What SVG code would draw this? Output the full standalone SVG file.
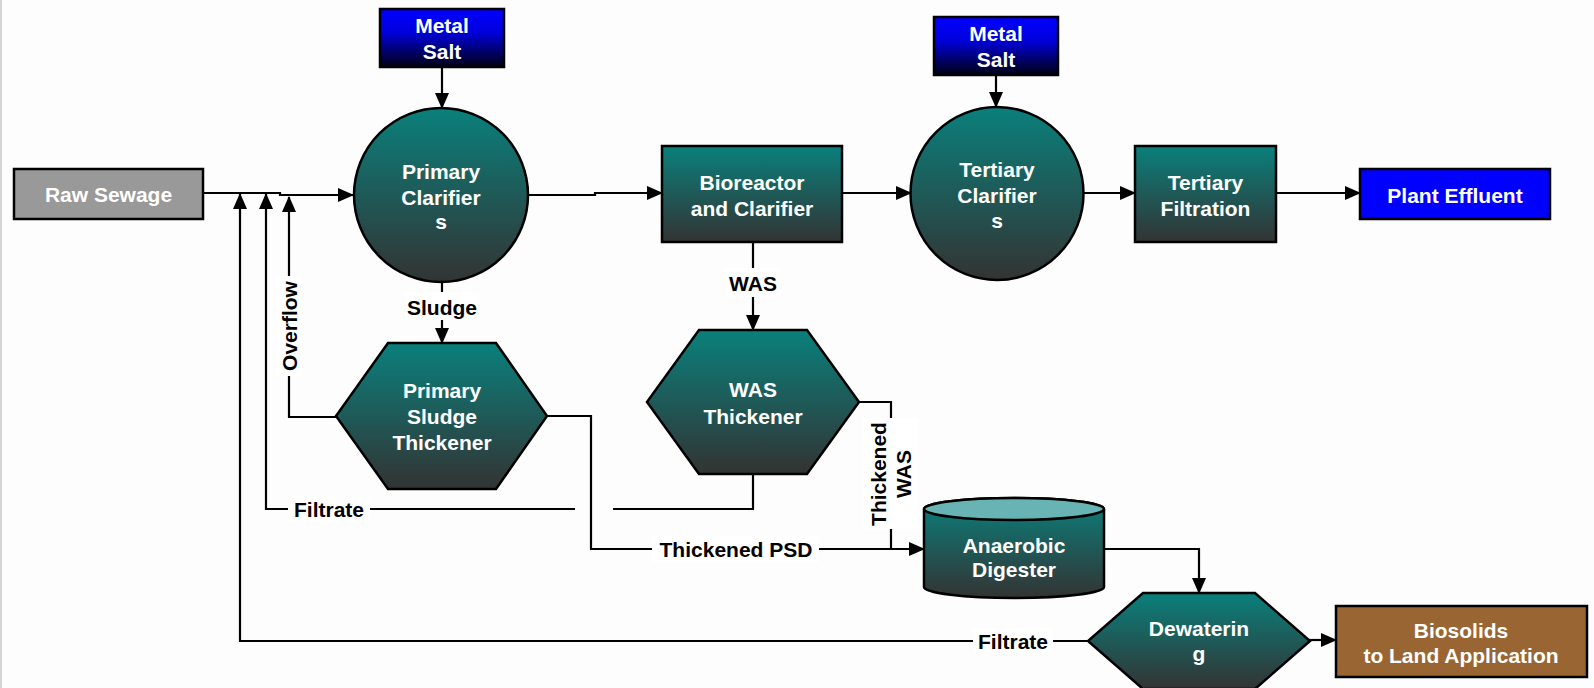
<svg xmlns="http://www.w3.org/2000/svg" width="1594" height="688" viewBox="0 0 1594 688">
<defs>
<linearGradient id="teal" x1="0" y1="0" x2="0" y2="1">
<stop offset="0" stop-color="#0a807c"/>
<stop offset="1" stop-color="#333333"/>
</linearGradient>
<linearGradient id="blue" x1="0" y1="0" x2="0" y2="1">
<stop offset="0" stop-color="#0000ff"/>
<stop offset="0.4" stop-color="#0000dd"/>
<stop offset="1" stop-color="#000012"/>
</linearGradient>
<marker id="arr" markerUnits="userSpaceOnUse" markerWidth="16" markerHeight="14" refX="15" refY="7" orient="auto">
<path d="M0,0 L16,7 L0,14 Z" fill="#000"/>
</marker>
<style>
.node{stroke:#000;stroke-width:2.5}
.tl{fill:url(#teal)}
.nt{font-family:"Liberation Sans",Arial,sans-serif;font-weight:bold;font-size:21px;fill:#fff;text-anchor:middle}
.lb{font-family:"Liberation Sans",Arial,sans-serif;font-weight:bold;font-size:21px;fill:#000;text-anchor:middle}
.c{fill:none;stroke:#000;stroke-width:2.2}
.bg{fill:#fff}
</style>
</defs>
<rect x="0" y="0" width="1594" height="688" fill="#fdfdfd"/>
<rect x="0" y="0" width="2" height="688" fill="#d4d4d4"/>

<g id="connectors">
<path class="c" d="M204,193 H280 V195 H353" marker-end="url(#arr)"/>
<path class="c" d="M442,67 V108" marker-end="url(#arr)"/>
<path class="c" d="M996,75 V107" marker-end="url(#arr)"/>
<path class="c" d="M528,195 H595 V193 H662" marker-end="url(#arr)"/>
<path class="c" d="M842,193 H911" marker-end="url(#arr)"/>
<path class="c" d="M1084,193 H1135" marker-end="url(#arr)"/>
<path class="c" d="M1276,193 H1360" marker-end="url(#arr)"/>
<path class="c" d="M442,282 V343" marker-end="url(#arr)"/>
<path class="c" d="M753,242 V330" marker-end="url(#arr)"/>
<path class="c" d="M336,417 H289 V197" marker-end="url(#arr)"/>
<path class="c" d="M575,509 H266 V194" marker-end="url(#arr)"/>
<path class="c" d="M613,509 H753 V474"/>
<path class="c" d="M1088,641 H240 V194" marker-end="url(#arr)"/>
<path class="c" d="M547,416 H591 V549 H924" marker-end="url(#arr)"/>
<path class="c" d="M859,402 H891 V549"/>
<path class="c" d="M1104,549 H1199 V593" marker-end="url(#arr)"/>
<path class="c" d="M1309,640 H1336" marker-end="url(#arr)"/>

<rect class="bg" x="405" y="292" width="74" height="28"/>
<text class="lb" x="442" y="314.5">Sludge</text>
<rect class="bg" x="725" y="268" width="56" height="29"/>
<text class="lb" x="753" y="290.5">WAS</text>
<rect class="bg" x="276" y="276" width="26" height="100"/>
<text class="lb" transform="translate(289,326) rotate(-90)" y="7.5">Overflow</text>
<rect class="bg" x="288" y="496" width="82" height="26"/>
<text class="lb" x="329" y="516.5">Filtrate</text>
<rect class="bg" x="652" y="536" width="167" height="26"/>
<text class="lb" x="736" y="556.5">Thickened PSD</text>
<rect class="bg" x="863" y="418" width="55" height="111"/>
<text class="lb" transform="translate(891,474) rotate(-90)"><tspan x="0" y="-5">Thickened</tspan><tspan x="0" y="20">WAS</tspan></text>
<rect class="bg" x="973" y="628" width="80" height="26"/>
<text class="lb" x="1013" y="648.5">Filtrate</text>
</g>

<g id="raw-sewage">
<rect class="node" x="14" y="169" width="189" height="50" fill="#999999"/>
<text class="nt" x="108.5" y="201.5">Raw Sewage</text>
</g>

<g id="metal-salt-1">
<rect class="node" x="380" y="9" width="124" height="58" fill="url(#blue)"/>
<text class="nt" x="442" y="33">Metal</text>
<text class="nt" x="442" y="59">Salt</text>
</g>

<g id="primary-clarifiers">
<circle class="node tl" cx="441" cy="195" r="87"/>
<text class="nt" x="441" y="179">Primary</text>
<text class="nt" x="441" y="204.5">Clarifier</text>
<text class="nt" x="441" y="229">s</text>
</g>

<g id="bioreactor">
<rect class="node tl" x="662" y="146" width="180" height="96"/>
<text class="nt" x="752" y="190">Bioreactor</text>
<text class="nt" x="752" y="216">and Clarifier</text>
</g>

<g id="metal-salt-2">
<rect class="node" x="934" y="17" width="124" height="58" fill="url(#blue)"/>
<text class="nt" x="996" y="41">Metal</text>
<text class="nt" x="996" y="67">Salt</text>
</g>

<g id="tertiary-clarifiers">
<circle class="node tl" cx="997" cy="193.5" r="86.5"/>
<text class="nt" x="997" y="177">Tertiary</text>
<text class="nt" x="997" y="202.5">Clarifier</text>
<text class="nt" x="997" y="227.5">s</text>
</g>

<g id="tertiary-filtration">
<rect class="node tl" x="1135" y="146" width="141" height="96"/>
<text class="nt" x="1205.5" y="190">Tertiary</text>
<text class="nt" x="1205.5" y="216">Filtration</text>
</g>

<g id="plant-effluent">
<rect class="node" x="1360" y="169" width="190" height="50" fill="#0000ff"/>
<text class="nt" x="1455" y="202.5">Plant Effluent</text>
</g>

<g id="primary-sludge-thickener">
<polygon class="node tl" points="388,343 496,343 547,416 496,489 388,489 336,416"/>
<text class="nt" x="442" y="397.5">Primary</text>
<text class="nt" x="442" y="424">Sludge</text>
<text class="nt" x="442" y="450">Thickener</text>
</g>

<g id="was-thickener">
<polygon class="node tl" points="699,330 807,330 859,402 807,474 699,474 647,402"/>
<text class="nt" x="753" y="396.5">WAS</text>
<text class="nt" x="753" y="423.5">Thickener</text>
</g>

<g id="anaerobic-digester">
<path class="node tl" d="M924,509 V587 A90,11 0 0 0 1104,587 V509 A90,11 0 0 0 924,509 Z"/>
<ellipse class="node" cx="1014" cy="509" rx="90" ry="11" fill="#68b3b3"/>
<text class="nt" x="1014" y="552.5">Anaerobic</text>
<text class="nt" x="1014" y="576.5">Digester</text>
</g>

<g id="dewatering">
<polygon class="node tl" points="1143,593 1255,593 1310,641 1255,689 1143,689 1088,641"/>
<text class="nt" x="1199" y="635.5">Dewaterin</text>
<text class="nt" x="1199" y="661">g</text>
</g>

<g id="biosolids">
<rect class="node" x="1336" y="606" width="251" height="71" fill="#996633"/>
<text class="nt" x="1461" y="637.5">Biosolids</text>
<text class="nt" x="1461" y="662.5">to Land Application</text>
</g>
</svg>
